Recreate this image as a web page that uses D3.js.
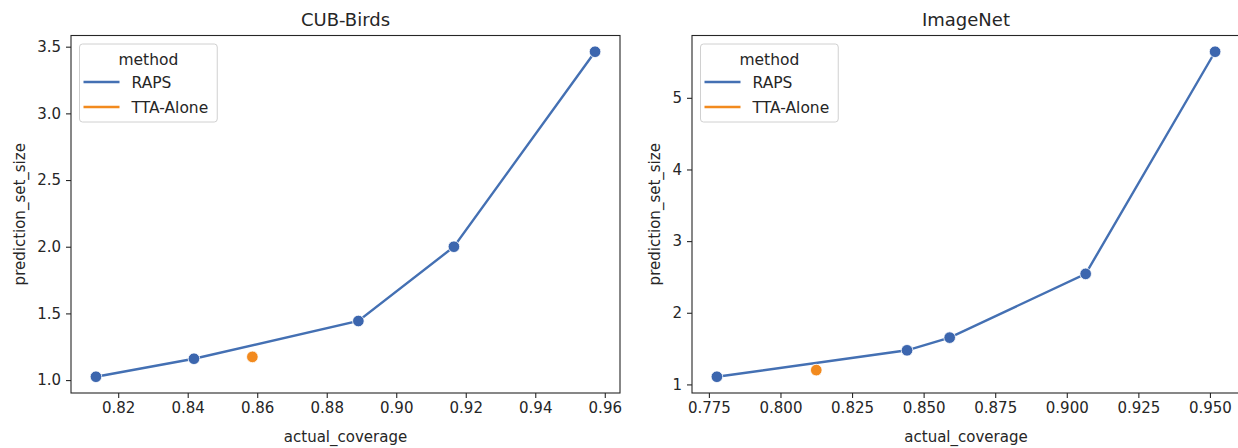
<!DOCTYPE html>
<html>
<head>
<meta charset="utf-8">
<script src="https://cdn.jsdelivr.net/npm/d3@7"></script>
<style>
  body { margin: 0; background: #fff; }
  svg text { font-family: "DejaVu Sans", sans-serif; fill: #262626; }
</style>
</head>
<body>
<div id="chart"></div>
<script>
// data
var methods = ["RAPS", "TTA-Alone"]
var colors = ["#4470b3", "#f28a1e"]

var cubRapsCoverage = [0.8136, 0.8418, 0.8891, 0.9166, 0.9572]
var cubRapsSize = [1.025, 1.160, 1.443, 2.0, 3.462]
var cubTtaCoverage = [0.8586]
var cubTtaSize = [1.174]
var cubXTicks = [0.82, 0.84, 0.86, 0.88, 0.90, 0.92, 0.94, 0.96]
var cubYTicks = [1.0, 1.5, 2.0, 2.5, 3.0, 3.5]

var imnRapsCoverage = [0.7778, 0.8442, 0.8591, 0.9066, 0.9518]
var imnRapsSize = [1.107, 1.476, 1.653, 2.543, 5.643]
var imnTtaCoverage = [0.8125]
var imnTtaSize = [1.200]
var imnXTicks = [0.775, 0.800, 0.825, 0.850, 0.875, 0.900, 0.925, 0.950]
var imnYTicks = [1, 2, 3, 4, 5]

var W = 1238, H = 448
var svg = d3.select("#chart").append("svg")
    .attr("width", W).attr("height", H)

var panels = [
    { title: "CUB-Birds", left: 71, right: 620,
      raps: d3.zip(cubRapsCoverage, cubRapsSize), tta: d3.zip(cubTtaCoverage, cubTtaSize),
      xt: cubXTicks, yt: cubYTicks, xf: d3.format(".2f"), yf: d3.format(".1f") },
    { title: "ImageNet", left: 692, right: 1240,
      raps: d3.zip(imnRapsCoverage, imnRapsSize), tta: d3.zip(imnTtaCoverage, imnTtaSize),
      xt: imnXTicks, yt: imnYTicks, xf: d3.format(".3f"), yf: d3.format("d") }
]
var plotTop = 35.5, plotBottom = 393
var fs = 15

// matplotlib style 5% margins
function padded(vals) {
    var e = d3.extent(vals), m = (e[1] - e[0]) * 0.05
    return [e[0] - m, e[1] + m]
}

panels.forEach(function (p) {
    var all = p.raps.concat(p.tta)
    var x = d3.scaleLinear().domain(padded(all.map(d => d[0]))).range([p.left, p.right])
    var y = d3.scaleLinear().domain(padded(all.map(d => d[1]))).range([plotBottom, plotTop])

    var g = svg.append("g")

    // axes
    g.append("g")
        .attr("transform", "translate(0," + plotBottom + ")")
        .call(d3.axisBottom(x).tickValues(p.xt).tickFormat(p.xf).tickSize(5).tickPadding(4))
    var ya = g.append("g")
        .attr("transform", "translate(" + p.left + ",0)")
        .call(d3.axisLeft(y).tickValues(p.yt).tickFormat(p.yf).tickSize(5).tickPadding(5))
    g.selectAll(".domain").remove()
    g.selectAll(".tick line").attr("stroke", "#262626").attr("stroke-width", 1.1)
    g.selectAll(".tick text").attr("font-size", fs).attr("font-family", "DejaVu Sans").attr("fill", "#262626")

    // frame
    g.append("rect")
        .attr("x", p.left).attr("y", plotTop)
        .attr("width", p.right - p.left).attr("height", plotBottom - plotTop)
        .attr("fill", "none").attr("stroke", "#262626").attr("stroke-width", 1.1)

    // lines
    var line = d3.line().x(d => x(d[0])).y(d => y(d[1]))
    g.append("path").datum(p.raps)
        .attr("d", line).attr("fill", "none")
        .attr("stroke", colors[0]).attr("stroke-width", 2.4)

    g.selectAll(".raps").data(p.raps).enter().append("circle")
        .attr("cx", d => x(d[0])).attr("cy", d => y(d[1])).attr("r", 5.8)
        .attr("fill", "#3c66ae").attr("stroke", "#fff").attr("stroke-width", 0.8)
    g.selectAll(".tta").data(p.tta).enter().append("circle")
        .attr("cx", d => x(d[0])).attr("cy", d => y(d[1])).attr("r", 5.8)
        .attr("fill", colors[1]).attr("stroke", "#fff").attr("stroke-width", 0.8)

    // title and labels
    var cx = (p.left + p.right) / 2
    g.append("text").attr("x", cx).attr("y", 26)
        .attr("text-anchor", "middle").attr("font-size", 18).text(p.title)
    g.append("text").attr("x", cx).attr("y", 442)
        .attr("text-anchor", "middle").attr("font-size", fs).text("actual_coverage")

    var tw = d3.max(ya.selectAll(".tick text").nodes(), n => n.getBBox().width)
    g.append("text")
        .attr("transform", "translate(" + (p.left - tw - 10 - 12) + "," + ((plotTop + plotBottom) / 2) + ") rotate(-90)")
        .attr("text-anchor", "middle").attr("font-size", fs).text("prediction_set_size")

    // legend
    var lx = p.left + 8.5, ly = plotTop + 8.5
    var lg = g.append("g").attr("transform", "translate(" + lx + "," + ly + ")")
    var box = lg.append("rect").attr("rx", 3).attr("ry", 3)
        .attr("fill", "#fff").attr("fill-opacity", 0.8)
        .attr("stroke", "#d0d0d0").attr("stroke-width", 1)
    var items = lg.selectAll(".item").data(methods).enter().append("g")
        .attr("transform", (d, i) => "translate(0," + (38 + i * 25) + ")")
    items.append("line").attr("x1", 4).attr("x2", 40)
        .attr("stroke", (d, i) => colors[i]).attr("stroke-width", 2.4)
    items.append("text").attr("x", 52).attr("dy", "0.36em")
        .attr("font-size", 15.5).text(d => d)
    var maxw = d3.max(items.selectAll("text").nodes(), n => n.getBBox().width)
    var bw = 52 + maxw + 8
    box.attr("width", bw).attr("height", 78)
    lg.append("text").attr("x", bw / 2).attr("y", 15).attr("dy", "0.36em")
        .attr("text-anchor", "middle").attr("font-size", 15.5).text("method")
})
</script>
</body>
</html>
